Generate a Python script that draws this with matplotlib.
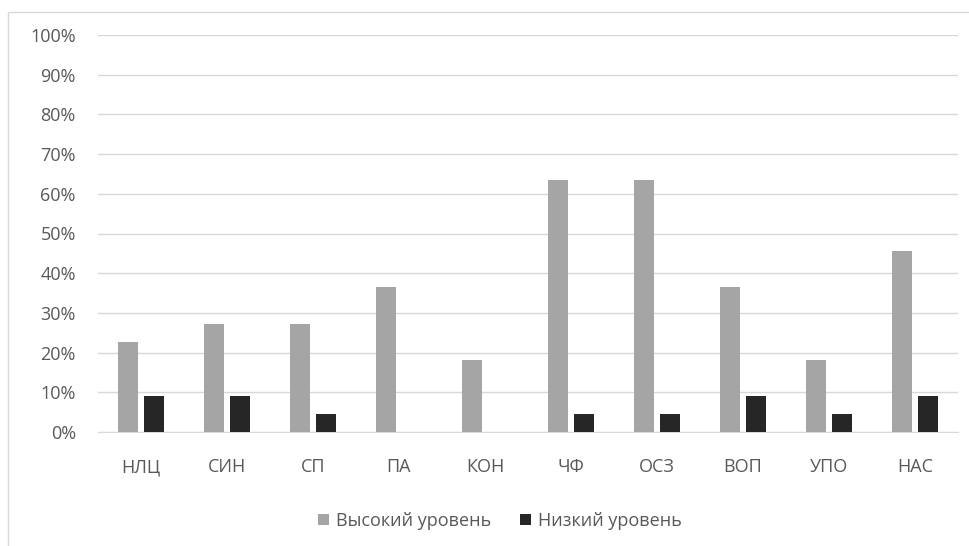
import matplotlib.pyplot as plt
from matplotlib.patches import Rectangle
import numpy as np

categories = ["НЛЦ", "СИН", "СП", "ПА", "КОН", "ЧФ", "ОСЗ", "ВОП", "УПО", "НАС"]
high_level = [22.7, 27.3, 27.3, 36.4, 18.2, 63.6, 63.6, 36.4, 18.2, 45.5]
low_level = [9.1, 9.1, 4.5, 0, 0, 4.5, 4.5, 9.1, 4.5, 9.1]
y_ticks = list(range(0, 101, 10))

plt.rcParams['font.family'] = ['Open Sans', 'DejaVu Sans']
text_color = "#595959"

fig = plt.figure(figsize=(9.70, 5.46), dpi=100)
fig.patch.set_facecolor("white")

# outer chart frame (open to the right and bottom)
fig.add_artist(Rectangle((8 / 970, -0.1), 1.1, 1 - 12 / 546 + 0.1,
                         transform=fig.transFigure, fill=False,
                         edgecolor="#d9d9d9", linewidth=1.0))

ax = fig.add_axes([98 / 970, 1 - 432 / 546, 860 / 970, 397 / 546])
x = np.arange(len(categories))
w = 0.235
ax.bar(x - w / 2 - 0.03, high_level, width=w, color="#a5a5a5", label="Высокий уровень", zorder=3)
ax.bar(x + w / 2 + 0.03, low_level, width=w, color="#262626", label="Низкий уровень", zorder=3)

ax.set_xlim(-0.5, len(categories) - 0.5)
ax.set_ylim(0, 100)
ax.set_yticks(y_ticks)
ax.set_yticklabels([f"{t}%" for t in y_ticks])
ax.set_xticks(x)
ax.set_xticklabels(categories)
ax.yaxis.grid(True, color="#d9d9d9", linewidth=1.0, zorder=0)
ax.set_axisbelow(True)
for s in ax.spines.values():
    s.set_visible(False)
ax.spines["bottom"].set_visible(True)
ax.spines["bottom"].set_color("#d9d9d9")
ax.tick_params(axis="both", length=0, colors=text_color, labelsize=13)
ax.tick_params(axis="x", pad=19)
ax.tick_params(axis="y", pad=16)

leg = fig.legend(loc="center", bbox_to_anchor=(500 / 970, 1 - 521 / 546), ncol=2,
                 frameon=False, fontsize=13, handlelength=0.6, handleheight=0.6,
                 handletextpad=0.4, columnspacing=1.6)
for t in leg.get_texts():
    t.set_color(text_color)

fig.savefig("out.png", dpi=100, facecolor="white")
